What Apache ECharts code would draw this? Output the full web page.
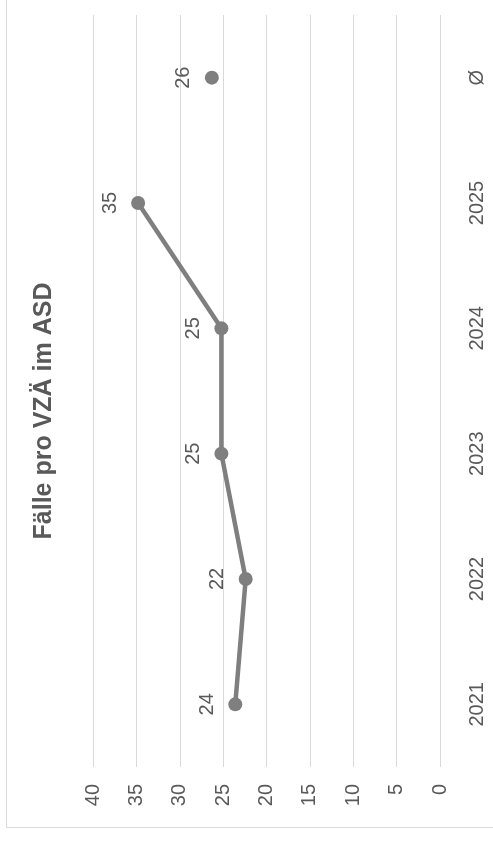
<!DOCTYPE html>
<html><head><meta charset="utf-8">
<script src="https://cdn.jsdelivr.net/npm/echarts@6/dist/echarts.min.js"></script>
<style>html,body{margin:0;padding:0;background:#fff}#c{width:493px;height:841px}</style>
</head><body><div id="c"></div>
<script>
const categories = ['2021', '2022', '2023', '2024', '2025', 'Ø'];
const trendValues = [23.6, 22.4, 25.2, 25.2, 34.8, null];
const averageValues = [null, null, null, null, null, 26.3];
const titleText = 'Fälle pro VZÄ im ASD';
const valueTicks = { min: 0, max: 40, interval: 5 };

const FONT = 'Liberation Sans';
const labelStyle = {
  show: true, position: 'left', distance: 11, rotate: 90,
  align: 'center', verticalAlign: 'bottom',
  color: '#595959', fontSize: 20, fontFamily: FONT,
  formatter: p => Math.round(p.value)
};
const chart = echarts.init(document.getElementById('c'), null, { renderer: 'canvas' });
chart.setOption({
  animation: false,
  backgroundColor: '#fff',
  grid: { left: 93, right: 53, top: 15, bottom: 74 },
  xAxis: {
    type: 'value', inverse: true,
    min: valueTicks.min, max: valueTicks.max, interval: valueTicks.interval,
    axisLine: { show: false }, axisTick: { show: false },
    splitLine: { show: true, lineStyle: { color: '#d9d9d9', width: 1 } },
    axisLabel: { rotate: 90, margin: 17, color: '#595959', fontSize: 20, fontFamily: FONT }
  },
  yAxis: {
    type: 'category', position: 'right', data: categories, boundaryGap: true,
    axisLine: { show: false }, axisTick: { show: false }, splitLine: { show: false },
    axisLabel: { rotate: 90, margin: 27, color: '#595959', fontSize: 20, fontFamily: FONT }
  },
  graphic: [
    { type: 'rect', shape: { x: 6.5, y: -10, width: 520, height: 837.5 },
      style: { fill: null, stroke: '#d9d9d9', lineWidth: 1 }, silent: true },
    { type: 'text', x: 44, y: 411, rotation: Math.PI / 2,
      style: { text: titleText, fill: '#595959', font: 'bold 25px "Liberation Sans"',
               align: 'center', verticalAlign: 'middle' } }
  ],
  series: [
    { type: 'line', data: trendValues, connectNulls: false,
      symbol: 'circle', symbolSize: 14,
      lineStyle: { color: '#7f7f7f', width: 4.5 },
      itemStyle: { color: '#7f7f7f' }, label: labelStyle },
    { type: 'line', data: averageValues,
      symbol: 'circle', symbolSize: 14,
      lineStyle: { color: '#7f7f7f', width: 4.5 },
      itemStyle: { color: '#7f7f7f' }, label: labelStyle }
  ]
});
</script></body></html>
